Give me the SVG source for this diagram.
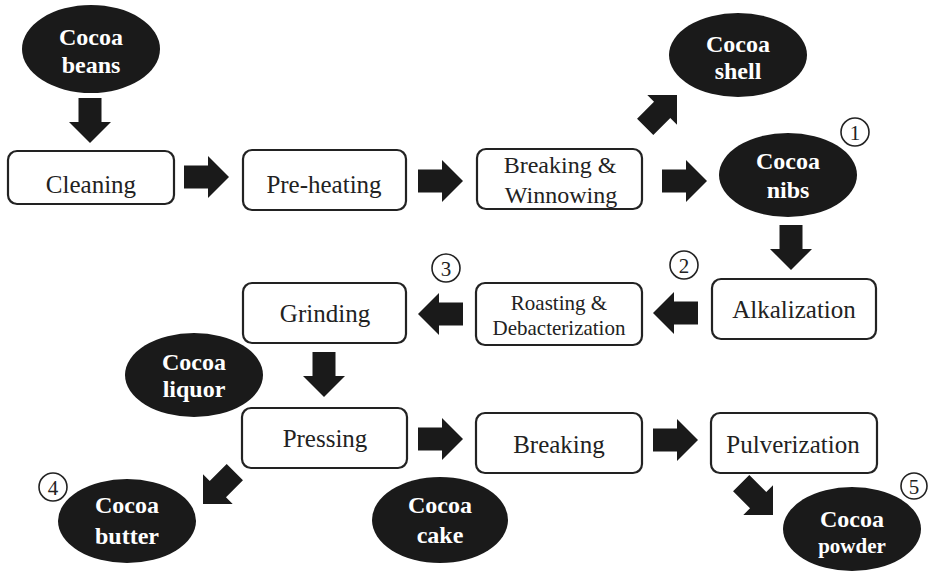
<svg xmlns="http://www.w3.org/2000/svg" xmlns:xlink="http://www.w3.org/1999/xlink" width="928" height="572" viewBox="0 0 928 572">
<style>
.box{fill:#fff;stroke:#222;stroke-width:2.2}
.ell{fill:#1a1a1a}
.bt{font-family:'Liberation Serif','Tinos','Times New Roman','DejaVu Serif',serif;font-size:25px;fill:#222;text-anchor:middle}
.st{font-size:21px}
.et{font-family:'Liberation Serif','Tinos','Times New Roman','DejaVu Serif',serif;font-size:24px;font-weight:bold;fill:#fff;text-anchor:middle}
.num{fill:#fff;stroke:#222;stroke-width:1.6}
.nt{font-family:'Liberation Serif','Tinos','Times New Roman','DejaVu Serif',serif;font-size:21px;fill:#222;text-anchor:middle}
.arr{fill:#1a1a1a}
</style>
<defs>
<path id="arrow" class="arr" d="M-45,-11.5 H-21 V-21 L0,0 L-21,21 V11.5 H-45 Z"/>
</defs>
<g id="connectors">
<use xlink:href="#arrow" transform="translate(90,143) rotate(90)"/>
<use xlink:href="#arrow" transform="translate(229,177)"/>
<use xlink:href="#arrow" transform="translate(463,181)"/>
<use xlink:href="#arrow" transform="translate(707,181)"/>
<use xlink:href="#arrow" transform="translate(677,95) rotate(-45)"/>
<use xlink:href="#arrow" transform="translate(791,270) rotate(90)"/>
<use xlink:href="#arrow" transform="translate(653,313) rotate(180)"/>
<use xlink:href="#arrow" transform="translate(418,314) rotate(180)"/>
<use xlink:href="#arrow" transform="translate(324,397) rotate(90)"/>
<use xlink:href="#arrow" transform="translate(463,439)"/>
<use xlink:href="#arrow" transform="translate(698,440)"/>
<use xlink:href="#arrow" transform="translate(203,504) rotate(135)"/>
<use xlink:href="#arrow" transform="translate(773,515) rotate(45)"/>
</g>
<g id="cocoa-beans"><ellipse class="ell" cx="91" cy="49" rx="69" ry="44"/><text class="et" x="91" y="45">Cocoa</text><text class="et" x="91" y="73">beans</text></g>
<g id="cleaning"><rect class="box" x="8" y="151" width="166" height="53" rx="9"/><text class="bt" x="91" y="193">Cleaning</text></g>
<g id="pre-heating"><rect class="box" x="243" y="150" width="163" height="60" rx="9"/><text class="bt" x="324" y="193">Pre-heating</text></g>
<g id="breaking-winnowing"><rect class="box" x="477" y="149" width="165" height="60" rx="9"/><text class="bt" x="560" y="173" style="font-size:24px">Breaking &amp;</text><text class="bt" x="561" y="203" style="font-size:24px">Winnowing</text></g>
<g id="cocoa-shell"><ellipse class="ell" cx="738" cy="55" rx="69" ry="42"/><text class="et" x="738" y="52">Cocoa</text><text class="et" x="738" y="79">shell</text></g>
<g id="cocoa-nibs"><ellipse class="ell" cx="788" cy="175" rx="69" ry="42"/><text class="et" x="788" y="169">Cocoa</text><text class="et" x="788" y="198">nibs</text></g>
<g id="n1"><circle class="num" cx="855" cy="132" r="14"/><text class="nt" x="855" y="139.5">1</text></g>
<g id="alkalization"><rect class="box" x="712" y="279" width="164" height="60" rx="9"/><text class="bt" x="794" y="318">Alkalization</text></g>
<g id="n2"><circle class="num" cx="684" cy="265" r="14"/><text class="nt" x="684" y="272.5">2</text></g>
<g id="roasting"><rect class="box" x="476" y="283" width="166" height="62" rx="9"/><text class="bt st" x="559" y="310">Roasting &amp;</text><text class="bt st" x="559" y="335">Debacterization</text></g>
<g id="n3"><circle class="num" cx="446" cy="268" r="14"/><text class="nt" x="446" y="275.5">3</text></g>
<g id="grinding"><rect class="box" x="243" y="283" width="163" height="60" rx="9"/><text class="bt" x="325" y="322">Grinding</text></g>
<g id="cocoa-liquor"><ellipse class="ell" cx="194" cy="375" rx="69" ry="42"/><text class="et" x="194" y="370">Cocoa</text><text class="et" x="194" y="397">liquor</text></g>
<g id="pressing"><rect class="box" x="242" y="408" width="165" height="60" rx="9"/><text class="bt" x="325" y="447">Pressing</text></g>
<g id="breaking"><rect class="box" x="476" y="413" width="166" height="60" rx="9"/><text class="bt" x="559" y="453">Breaking</text></g>
<g id="pulverization"><rect class="box" x="711" y="413" width="166" height="60" rx="9"/><text class="bt" x="793" y="453">Pulverization</text></g>
<g id="n4"><circle class="num" cx="53" cy="487" r="14"/><text class="nt" x="53" y="494.5">4</text></g>
<g id="cocoa-butter"><ellipse class="ell" cx="127" cy="521" rx="69" ry="42"/><text class="et" x="127" y="513">Cocoa</text><text class="et" x="127" y="544">butter</text></g>
<g id="cocoa-cake"><ellipse class="ell" cx="440" cy="520" rx="68" ry="43"/><text class="et" x="440" y="513">Cocoa</text><text class="et" x="440" y="543">cake</text></g>
<g id="cocoa-powder"><ellipse class="ell" cx="852" cy="529" rx="69" ry="42"/><text class="et" x="852" y="527">Cocoa</text><text class="et" x="852" y="553" style="font-size:21px">powder</text></g>
<g id="n5"><circle class="num" cx="914" cy="486" r="13"/><text class="nt" x="914" y="493.5">5</text></g>
</svg>
